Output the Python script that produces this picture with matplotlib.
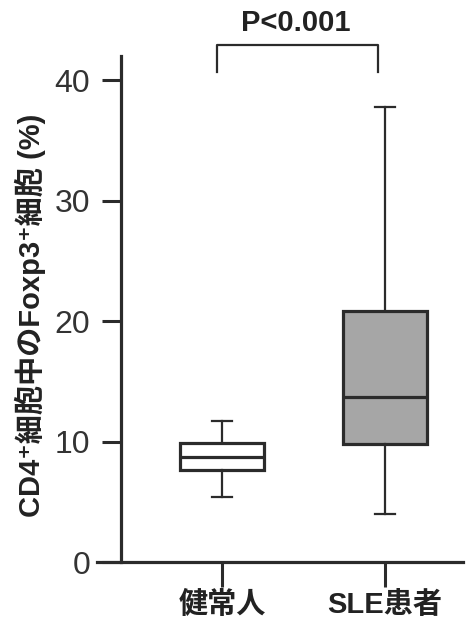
import matplotlib
matplotlib.use("Agg")
import matplotlib.pyplot as plt

# data (%)
groups = ["健常人", "SLE患者"]
q1 = [7.6, 9.8]
med = [8.7, 13.7]
q3 = [9.9, 20.8]
wlo = [5.4, 4.0]
whi = [11.7, 37.8]
fills = ["white", "#a6a6a6"]
yticks = [0, 10, 20, 30, 40]
p_text = "P<0.001"

dark = "#2b2b2b"
mixed = ["Liberation Sans", "Noto Sans CJK JP", "DejaVu Sans"]

fig = plt.figure(figsize=(4.66, 6.26), dpi=100)
ax = fig.add_axes([0.208, 0.1022, 0.786, 0.8855])

stats = []
for i, g in enumerate(groups):
    stats.append(dict(label=g, q1=q1[i], med=med[i], q3=q3[i],
                      whislo=wlo[i], whishi=whi[i], fliers=[]))

bp = ax.bxp(stats, positions=[1, 2], widths=0.51, patch_artist=True,
            showfliers=False,
            boxprops=dict(edgecolor=dark, linewidth=2.3),
            medianprops=dict(color=dark, linewidth=2.3),
            whiskerprops=dict(color=dark, linewidth=1.6),
            capprops=dict(color=dark, linewidth=1.6),
            capwidths=0.12)
for patch, c in zip(bp["boxes"], fills):
    patch.set_facecolor(c)

ax.set_xlim(0.233, 2.48)
ax.set_ylim(0, 46)

for s in ["top", "right"]:
    ax.spines[s].set_visible(False)
ax.spines["left"].set_position(("data", 0.38))
ax.spines["left"].set_bounds(0, 42)
ax.spines["left"].set_linewidth(2.3)
ax.spines["left"].set_color(dark)
ax.spines["bottom"].set_linewidth(2.3)
ax.spines["bottom"].set_color(dark)

ax.set_yticks(yticks)
ax.set_yticklabels([str(v) for v in yticks], fontsize=23,
                   family="Liberation Sans", color="#333333")
ax.tick_params(axis="y", length=14, width=2.2, color=dark, pad=8)
ax.set_xticks([1, 2])
ax.set_xticklabels(groups, fontsize=21, fontweight="bold",
                   family=mixed, color="#222222")
ax.tick_params(axis="x", length=18, width=2.2, color=dark, pad=3)

fig.text(0.066, 0.497, "CD4⁺細胞中のFoxp3⁺細胞 (%)", rotation=90,
         ha="center", va="center", fontsize=21, fontweight="bold",
         family=mixed, color="#222222")

# significance bracket
ax.plot([0.97, 0.97, 1.96, 1.96], [40.7, 42.9, 42.9, 40.7],
        color=dark, linewidth=1.6, clip_on=False)
ax.text(1.45, 43.6, p_text, ha="center", va="bottom", fontsize=21,
        fontweight="bold", family="Liberation Sans", color="#222222")

fig.savefig("out.png", dpi=100)
